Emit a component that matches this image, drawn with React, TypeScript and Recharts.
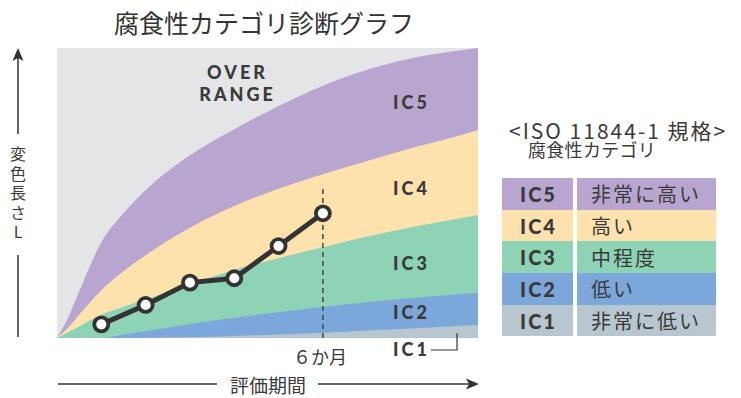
import { ComposedChart, Area, Line, XAxis, YAxis, CartesianGrid, ReferenceLine } from 'recharts';

// band boundaries (cumulative top of each category), by elapsed month
const months = [0, 0.25, 0.5, 1, 1.5, 2, 3, 4, 5, 6, 7, 8, 9, 9.5];
const ic5Top = [0, 7, 16, 33, 43, 51, 63, 72, 80, 87, 92.5, 96.5, 99, 100];
const ic4Top = [0, 3.5, 8, 16.5, 23, 28.5, 38, 45.5, 51.5, 56.5, 61, 65.5, 69.5, 71.7];
const ic3Top = [0, 2, 4, 8, 10.8, 13.3, 18.5, 23.5, 27.5, 31.3, 35, 38.2, 41, 42.4];
const ic2Top = [0, 0, 0, 0, 1.2, 2.3, 4.8, 7, 8.9, 10.7, 12.3, 13.8, 15, 15.6];
const ic1Top = [0, 0, 0, 0, 0, 0.1, 0.3, 0.7, 1.2, 1.8, 2.6, 3.3, 4.1, 4.5];

// measured discoloration length
const measuredMonths = [1, 2, 3, 4, 5, 6];
const measuredLength = [4.7, 11.4, 19.1, 20.6, 31.7, 43.0];

const categories = ['IC5', 'IC4', 'IC3', 'IC2', 'IC1'];
const categoryNames = ['非常に高い', '高い', '中程度', '低い', '非常に低い'];

const COLORS: Record<string, string> = {
  IC5: '#b9a6d0',
  IC4: '#fde2ad',
  IC3: '#8fd3b6',
  IC2: '#7ba7db',
  IC1: '#b8c6cf',
};

const bandData = months.map((m, i) => ({
  month: m,
  IC5: ic5Top[i],
  IC4: ic4Top[i],
  IC3: ic3Top[i],
  IC2: ic2Top[i],
  IC1: ic1Top[i],
}));

const measuredData = measuredMonths.map((m, i) => ({ month: m, length: measuredLength[i] }));

const JP = '"Noto Sans CJK JP", "Noto Sans", sans-serif';
const BOLD = 'Lato, "Open Sans", sans-serif';
const INK = '#3a3a3a';

// band label y positions (px)
const bandLabelY = [102, 188, 263, 312, 349];

function Centered({ x, y, children, style }: { x: number; y: number; children: React.ReactNode; style?: React.CSSProperties }) {
  return (
    <div
      style={{
        position: 'absolute',
        left: x,
        top: y,
        transform: 'translate(-50%, -50%)',
        whiteSpace: 'nowrap',
        lineHeight: 1,
        color: INK,
        ...style,
      }}
    >
      {children}
    </div>
  );
}

export default function App() {
  return (
    <div style={{ position: 'absolute', left: 0, top: 0, width: 741, height: 398, background: '#fff', fontFamily: JP }}>
      <ComposedChart
        width={741}
        height={398}
        data={bandData}
        margin={{ top: 48, right: 263, bottom: 60, left: 57 }}
      >
        <CartesianGrid fill="#e4e5e7" horizontal={false} vertical={false} stroke="none" />
        <XAxis type="number" dataKey="month" domain={[0, 9.5]} hide />
        <YAxis type="number" domain={[0, 100]} hide />
        {categories.map((c) => (
          <Area
            key={c}
            dataKey={c}
            type="monotone"
            stroke="none"
            fill={COLORS[c]}
            fillOpacity={1}
            isAnimationActive={false}
          />
        ))}
        <ReferenceLine
          segment={[{ x: 6, y: 0 }, { x: 6, y: 52 }]}
          stroke="#444"
          strokeWidth={1.5}
          strokeDasharray="5 4"
        />
        <Line
          data={measuredData}
          dataKey="length"
          type="linear"
          stroke="#333"
          strokeWidth={5}
          dot={{ r: 7, fill: '#fff', stroke: '#333', strokeWidth: 3.8 }}
          activeDot={false}
          isAnimationActive={false}
        />
      </ComposedChart>

      {/* axis arrows and IC1 pointer */}
      <svg width={741} height={398} style={{ position: 'absolute', left: 0, top: 0, pointerEvents: 'none' }}>
        <line x1={18} y1={56} x2={18} y2={134} stroke="#333" strokeWidth={1.5} />
        <polygon points="18,48 12.5,61 18,58 23.5,61" fill="#333" />
        <line x1={18} y1={255} x2={18} y2={337} stroke="#333" strokeWidth={1.5} />
        <line x1={58} y1={384} x2={217} y2={384} stroke="#333" strokeWidth={1.5} />
        <line x1={318} y1={384} x2={470} y2={384} stroke="#333" strokeWidth={1.5} />
        <polygon points="479,384 466,378.5 469,384 466,389.5" fill="#333" />
        <polyline points="431,350 457,350 457,333" fill="none" stroke="#333" strokeWidth={1.2} />
      </svg>

      <Centered x={264} y={22} style={{ fontSize: 25, color: '#333' }}>
        腐食性カテゴリ診断グラフ
      </Centered>

      {/* vertical axis title */}
      <div
        style={{
          position: 'absolute',
          left: 10,
          top: 146,
          writingMode: 'vertical-rl',
          textOrientation: 'upright',
          fontSize: 16,
          letterSpacing: 3.5,
          lineHeight: 1,
          color: INK,
        }}
      >
        変色長さ<span style={{ fontSize: 0, letterSpacing: 0 }}> </span>L
      </div>

      <Centered x={268} y={384} style={{ fontSize: 19 }}>
        評価期間
      </Centered>
      <Centered x={320} y={356} style={{ fontSize: 18 }}>
        ６か月
      </Centered>

      <Centered x={236} y={72} style={{ fontFamily: BOLD, fontWeight: 900, fontSize: 18, letterSpacing: 3, paddingLeft: 3 }}>
        OVER
      </Centered>
      <Centered x={236} y={94} style={{ fontFamily: BOLD, fontWeight: 900, fontSize: 18, letterSpacing: 3, paddingLeft: 3 }}>
        RANGE
      </Centered>

      {categories.map((c, i) => (
        <Centered
          key={c}
          x={410}
          y={bandLabelY[i]}
          style={{ fontFamily: BOLD, fontWeight: 900, fontSize: 18, letterSpacing: 3, paddingLeft: 3 }}
        >
          {c}
        </Centered>
      ))}

      {/* category table */}
      <div
        style={{
          position: 'absolute',
          left: 509,
          top: 120,
          fontSize: 21,
          letterSpacing: 2,
          lineHeight: '21px',
          whiteSpace: 'nowrap',
          color: INK,
        }}
      >
        &lt;ISO 11844-1 規格&gt;
        <br />
        <span style={{ position: 'relative', top: -3, marginLeft: 19, fontSize: 18, letterSpacing: 0.3 }}>
          腐食性カテゴリ
        </span>
      </div>
      <div style={{ position: 'absolute', left: 502, top: 178, width: 214 }}>
        {categories.map((c, i) => (
          <div key={c} style={{ display: 'flex', height: 31.7 }}>
            <div
              style={{
                width: 69,
                marginRight: 4,
                background: COLORS[c],
                display: 'flex',
                alignItems: 'center',
                justifyContent: 'center',
                fontFamily: BOLD,
                fontWeight: 900,
                fontSize: 20,
                letterSpacing: 2,
                paddingLeft: 2,
                color: INK,
              }}
            >
              {c}
            </div>
            <div
              style={{
                flex: 1,
                background: COLORS[c],
                display: 'flex',
                alignItems: 'center',
                paddingLeft: 14,
                fontSize: 20,
                letterSpacing: 2,
                color: INK,
              }}
            >
              {categoryNames[i]}
            </div>
          </div>
        ))}
      </div>
    </div>
  );
}
